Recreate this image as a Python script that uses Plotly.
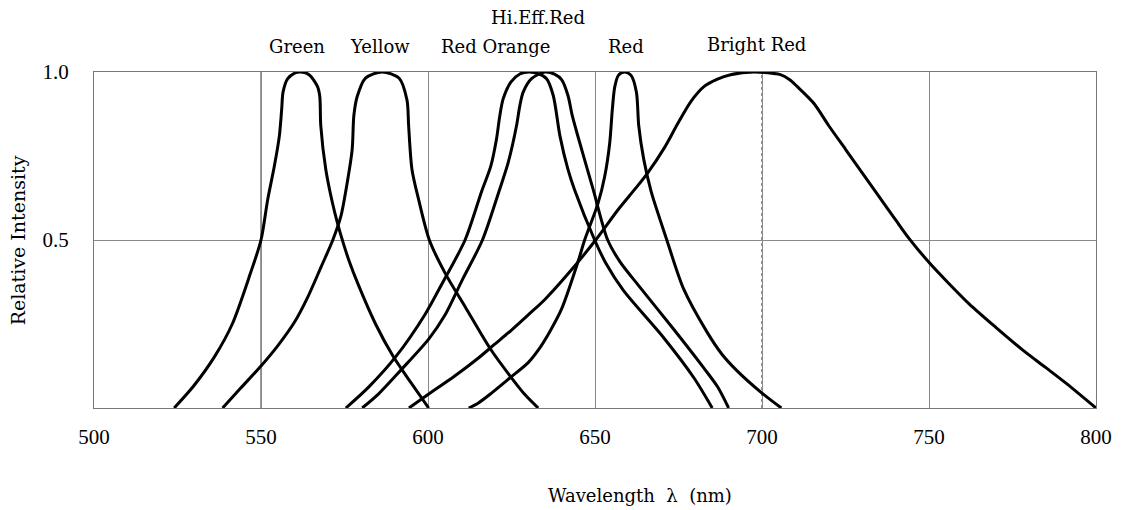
import plotly.graph_objects as go

# ---- data (wavelength nm, relative intensity) ----
green_x = [524, 529.7, 536.1, 541.4, 546.8, 550, 552, 554, 555.5, 556.2, 556.6, 558, 560.4, 562,
           564.4, 566.9, 567.6, 567.9, 569.4, 571.4, 572.9, 574.5, 576.3, 579, 584.3, 589.6,
           595, 600.2]
green_y = [0, 0.064, 0.153, 0.25, 0.40, 0.5, 0.62, 0.72, 0.81, 0.89, 0.94, 0.98, 0.998, 1.0,
           0.992, 0.957, 0.927, 0.84, 0.71, 0.61, 0.55, 0.495, 0.44, 0.37, 0.25, 0.153,
           0.074, 0]

yellow_x = [538.5, 544, 550, 555, 560, 564, 568, 571.5, 573.9, 575.8, 577.3, 577.8, 578.8, 581.3,
            586.3, 591.3, 593.7, 594.2, 595.2, 597.2, 600.4, 605.2, 611.2, 618.6, 624.6, 629, 633]
yellow_y = [0, 0.06, 0.125, 0.185, 0.255, 0.33, 0.42, 0.5, 0.57, 0.67, 0.77, 0.87, 0.927, 0.982,
            1.0, 0.982, 0.917, 0.84, 0.71, 0.62, 0.5, 0.40, 0.30, 0.177, 0.095, 0.04, 0]

red_orange_x = [575.4, 582.3, 590.3, 599.2, 604.2, 611.1, 616.1, 618.8, 620.5, 621.5, 622.5, 624.8,
                627.5, 630.2, 633, 635.5, 637.5, 639.5, 641.9, 643.9, 649.9, 653.3, 658.5, 670.5,
                679.6, 685.1]
red_orange_y = [0, 0.063, 0.152, 0.28, 0.37, 0.5, 0.646, 0.72, 0.80, 0.87, 0.92, 0.97,
                0.994, 1.0, 0.995, 0.98, 0.93, 0.81, 0.71, 0.649, 0.5, 0.43, 0.35, 0.21,
                0.09, 0]

hi_eff_red_x = [580.3, 585.3, 591.8, 600.2, 605, 610.2, 616.3, 621.3, 624, 626.5, 627.5, 628.5,
                631, 635, 638, 640, 641.9, 643.2, 644.9, 649.4, 653.8, 657.5, 663, 673.5, 682.5,
                686.7, 690]
hi_eff_red_y = [0, 0.043, 0.112, 0.205, 0.275, 0.38, 0.5, 0.646, 0.73, 0.84, 0.90, 0.94,
                0.98, 1.0, 0.993, 0.977, 0.93, 0.87, 0.808, 0.652, 0.5, 0.435, 0.365, 0.235,
                0.12, 0.063, 0]

red_x = [612.2, 615.1, 619.1, 624.6, 630, 633, 636.5, 640, 644.9, 646.9, 650.9, 652.9, 654.4,
         655.2, 655.9, 657, 658.8, 660.8, 662.4, 663.1, 664.6, 666.8, 669.5, 671.5, 676.5,
         683.6, 688, 692.4, 699.9, 705.8]
red_y = [0, 0.015, 0.045, 0.09, 0.135, 0.172, 0.228, 0.295, 0.435, 0.5, 0.609, 0.689, 0.788,
         0.89, 0.955, 0.99, 1.0, 0.99, 0.94, 0.84, 0.74, 0.645, 0.56, 0.5, 0.355,
         0.225, 0.16, 0.112, 0.045, 0]

bright_red_x = [594.3, 600, 608, 615, 620, 625, 630, 635, 642, 650.2, 656.9, 662,
                665.8, 670.8, 674.7, 678.7, 682.7, 686.5, 690.6, 697.6, 705.5, 708.3, 710.5,
                715.5, 720, 725, 730, 735, 740, 744, 750.3, 756, 762, 770, 778, 785, 791, 800]
bright_red_y = [0, 0.04, 0.095, 0.148, 0.19, 0.232, 0.277, 0.323, 0.40, 0.5, 0.59, 0.652,
                0.70, 0.775, 0.845, 0.912, 0.957, 0.978, 0.992, 1.0, 0.992, 0.977, 0.957,
                0.907, 0.84, 0.77, 0.70, 0.63, 0.56, 0.505, 0.43, 0.37, 0.31, 0.24, 0.173,
                0.12, 0.074, 0]

series = [
    ("Green", green_x, green_y),
    ("Yellow", yellow_x, yellow_y),
    ("Red Orange", red_orange_x, red_orange_y),
    ("Hi.Eff.Red", hi_eff_red_x, hi_eff_red_y),
    ("Red", red_x, red_y),
    ("Bright Red", bright_red_x, bright_red_y),
]

# curve labels above the plot (wavelength, height in plot-paper units)
label_names = ["Green", "Yellow", "Red Orange", "Hi.Eff.Red", "Red", "Bright Red"]
label_x = [560.8, 585.6, 620.2, 633.0, 659.2, 698.3]
label_y = [1.075, 1.075, 1.075, 1.162, 1.075, 1.081]

x_ticks = [500, 550, 600, 650, 700, 750, 800]
y_ticks = [0.5, 1.0]
y_tick_text = ["0.5", "1.0"]

TICK_FONT = "Liberation Serif, DejaVu Serif, serif"
TEXT_FONT = "DejaVu Serif, Liberation Serif, serif"

fig = go.Figure()
for name, xs, ys in series:
    fig.add_trace(go.Scatter(x=xs, y=ys, mode="lines", name=name,
                             line=dict(color="black", width=3, shape="spline", smoothing=0.8),
                             showlegend=False, hoverinfo="skip"))

# the 550 and 700 grid lines are drawn darker (700 dotted) in the reference
fig.add_vline(x=550, line=dict(color="#333333", width=1), layer="below")
fig.add_vline(x=700, line=dict(color="#222222", width=1, dash="dot"), layer="below")

for n, lx, ly in zip(label_names, label_x, label_y):
    fig.add_annotation(text=n, x=lx, y=ly, xref="x", yref="paper", showarrow=False,
                       xanchor="center", yanchor="middle",
                       font=dict(family=TEXT_FONT, size=18, color="black"))

fig.add_annotation(text="Wavelength  \u03bb  (nm)", x=0.451, y=-0.26, xref="paper", yref="paper",
                   xanchor="left", yanchor="middle",
                   showarrow=False, font=dict(family=TEXT_FONT, size=18, color="black"))
fig.add_annotation(text="Relative Intensity", x=-0.0755, y=0.5, xref="paper", yref="paper",
                   xanchor="center", yanchor="middle",
                   textangle=-90, showarrow=False,
                   font=dict(family=TEXT_FONT, size=19, color="black"))

fig.update_xaxes(range=[500, 800], tickvals=x_ticks, showgrid=True, gridcolor="#8a8a8a",
                 gridwidth=1, zeroline=False, showline=True, linecolor="#777777", linewidth=1,
                 mirror=True, ticks="", ticklabelstandoff=10,
                 tickfont=dict(family=TICK_FONT, size=21, color="black"))
fig.update_yaxes(range=[0, 1.0], tickvals=y_ticks, ticktext=y_tick_text, showgrid=True,
                 gridcolor="#8a8a8a", gridwidth=1, zeroline=False, showline=True,
                 linecolor="#777777", linewidth=1, mirror=True, ticks="", ticklabelstandoff=20,
                 tickfont=dict(family=TICK_FONT, size=21, color="black"))

# page body has an 8px margin, so the figure is offset by 8px
fig.update_layout(width=1116, height=502, margin=dict(l=86, r=23, t=64, b=102),
                  plot_bgcolor="white", paper_bgcolor="white")

fig.write_html("out.html")
